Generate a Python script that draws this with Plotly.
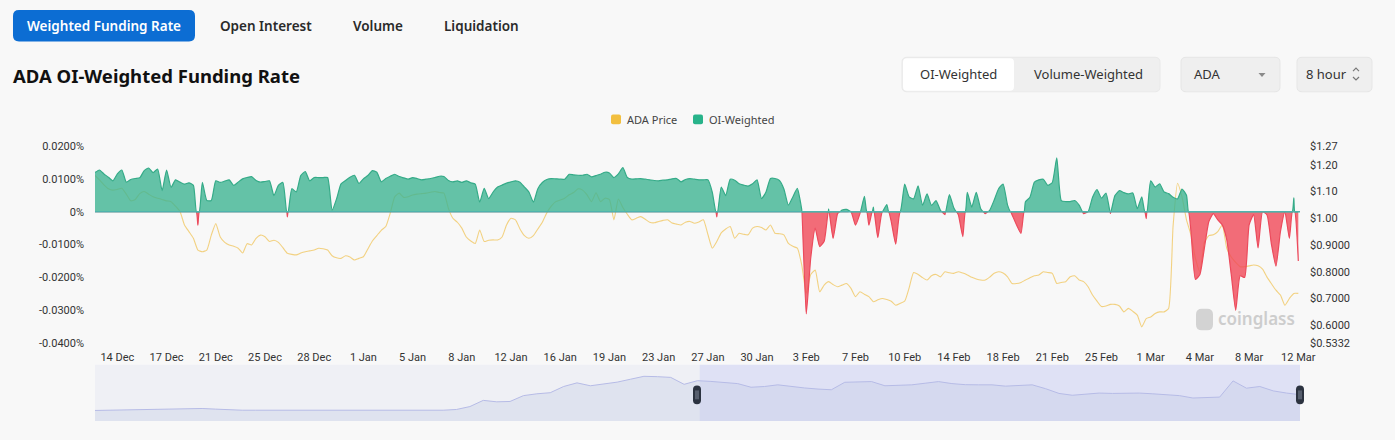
import pandas as pd
import plotly.graph_objects as go

# ----------------------------------------------------------------- data
series_start = "2024-12-12 08:00"
series_interval = "8h"

# OI-weighted funding rate, in percent, one value per 8h
funding_rate_pct = [
    0.0119, 0.0127, 0.0115, 0.0105, 0.0094, 0.0115, 0.0127, 0.0090, 0.0098, 0.0101,
    0.0103, 0.0125, 0.0133, 0.0119, 0.0130, 0.0064, 0.0127, 0.0074, 0.0097, 0.0090,
    0.0084, 0.0088, 0.0080, -0.0041, 0.0089, 0.0034, 0.0034, 0.0094, 0.0089, 0.0093,
    0.0097, 0.0080, 0.0090, 0.0100, 0.0104, 0.0107, 0.0095, 0.0090, 0.0092, 0.0094,
    0.0049, 0.0080, 0.0089, -0.0016, 0.0070, 0.0060, 0.0110, 0.0122, 0.0094, 0.0104,
    0.0104, 0.0104, 0.0104, 0.0004, 0.0039, 0.0085, 0.0095, 0.0105, 0.0111, 0.0086,
    0.0100, 0.0110, 0.0125, 0.0120, 0.0091, 0.0101, 0.0108, 0.0114, 0.0107, 0.0103,
    0.0099, 0.0104, 0.0101, 0.0097, 0.0099, 0.0101, 0.0104, 0.0108, 0.0107, 0.0095,
    0.0091, 0.0094, 0.0089, 0.0094, 0.0088, 0.0084, 0.0029, 0.0071, 0.0040, 0.0060,
    0.0075, 0.0081, 0.0087, 0.0091, 0.0094, 0.0090, 0.0075, 0.0060, 0.0029, 0.0070,
    0.0089, 0.0098, 0.0101, 0.0100, 0.0099, 0.0099, 0.0114, 0.0112, 0.0111, 0.0111,
    0.0114, 0.0106, 0.0110, 0.0114, 0.0120, 0.0118, 0.0104, 0.0115, 0.0134, 0.0104,
    0.0099, 0.0100, 0.0101, 0.0099, 0.0097, 0.0095, 0.0094, 0.0096, 0.0097, 0.0100,
    0.0101, 0.0091, 0.0098, 0.0101, 0.0099, 0.0097, 0.0097, 0.0097, 0.0059, -0.0016,
    0.0075, 0.0049, 0.0099, 0.0096, 0.0085, 0.0081, 0.0078, 0.0085, 0.0097, 0.0040,
    0.0060, 0.0101, 0.0101, 0.0095, 0.0069, 0.0020, 0.0045, 0.0071, 0.0005, -0.0311,
    -0.0141, -0.0050, -0.0106, -0.0090, 0.0008, -0.0081, -0.0006, 0.0005, 0.0007, 0.0000,
    -0.0041, -0.0006, 0.0047, -0.0041, 0.0014, -0.0079, 0.0000, 0.0022, -0.0030, -0.0099,
    0.0000, 0.0084, 0.0045, 0.0039, 0.0079, 0.0019, 0.0054, 0.0019, 0.0034, 0.0004,
    -0.0009, 0.0052, 0.0011, -0.0009, -0.0076, 0.0059, 0.0014, 0.0059, 0.0009, -0.0006,
    0.0004, 0.0035, 0.0070, 0.0084, 0.0020, -0.0009, -0.0040, -0.0066, 0.0030, 0.0044,
    0.0090, 0.0097, 0.0099, 0.0080, 0.0089, 0.0164, 0.0034, 0.0031, 0.0031, 0.0034,
    0.0020, -0.0006, 0.0000, 0.0044, 0.0067, 0.0041, 0.0057, -0.0005, 0.0049, 0.0064,
    0.0058, 0.0054, 0.0057, 0.0009, 0.0045, -0.0021, 0.0094, 0.0075, 0.0085, 0.0060,
    0.0055, 0.0044, 0.0039, 0.0069, 0.0050, -0.0060, -0.0206, -0.0191, -0.0111, -0.0030,
    -0.0006, -0.0025, -0.0040, -0.0085, -0.0190, -0.0300, -0.0195, -0.0200, -0.0040, -0.0009,
    -0.0110, 0.0000, -0.0010, -0.0100, -0.0166, -0.0061, 0.0000, -0.0081, 0.0042, -0.0150,
]

# ADA price (USD), one value per 8h
ada_price_usd = [
    1.160, 1.143, 1.125, 1.110, 1.105, 1.108, 1.112, 1.090, 1.065, 1.070,
    1.092, 1.100, 1.090, 1.080, 1.075, 1.070, 1.065, 1.062, 1.045, 1.025,
    0.975, 0.950, 0.925, 0.881, 0.875, 0.881, 0.937, 0.980, 0.930, 0.910,
    0.900, 0.895, 0.888, 0.870, 0.905, 0.900, 0.925, 0.937, 0.931, 0.913,
    0.918, 0.910, 0.890, 0.869, 0.865, 0.863, 0.870, 0.875, 0.878, 0.881,
    0.888, 0.886, 0.881, 0.860, 0.852, 0.850, 0.860, 0.855, 0.844, 0.850,
    0.856, 0.885, 0.915, 0.935, 0.955, 0.969, 1.019, 1.080, 1.094, 1.078,
    1.080, 1.087, 1.090, 1.092, 1.094, 1.097, 1.100, 1.096, 1.094, 1.037,
    1.000, 0.985, 0.963, 0.930, 0.915, 0.906, 0.956, 0.913, 0.918, 0.919,
    0.919, 0.930, 0.975, 1.000, 0.994, 0.960, 0.935, 0.925, 0.935, 0.960,
    0.985, 1.020, 1.045, 1.062, 1.068, 1.075, 1.088, 1.096, 1.110, 1.105,
    1.087, 1.062, 1.095, 1.062, 1.075, 1.070, 0.994, 1.072, 1.040, 1.015,
    0.994, 1.000, 1.006, 0.996, 0.985, 0.983, 0.988, 0.992, 0.994, 0.982,
    0.978, 0.975, 0.985, 0.988, 0.981, 0.986, 0.994, 0.940, 0.888, 0.913,
    0.945, 0.960, 0.969, 0.925, 0.944, 0.940, 0.938, 0.963, 0.969, 0.965,
    0.956, 0.975, 0.944, 0.942, 0.938, 0.906, 0.895, 0.888, 0.825, 0.720,
    0.790, 0.806, 0.725, 0.750, 0.763, 0.752, 0.744, 0.750, 0.756, 0.738,
    0.707, 0.725, 0.716, 0.707, 0.688, 0.695, 0.700, 0.696, 0.690, 0.675,
    0.682, 0.690, 0.740, 0.797, 0.790, 0.778, 0.769, 0.785, 0.790, 0.781,
    0.800, 0.796, 0.794, 0.800, 0.795, 0.788, 0.779, 0.773, 0.769, 0.769,
    0.780, 0.794, 0.800, 0.795, 0.781, 0.756, 0.756, 0.760, 0.769, 0.778,
    0.785, 0.788, 0.800, 0.797, 0.794, 0.756, 0.760, 0.763, 0.781, 0.785,
    0.769, 0.763, 0.744, 0.713, 0.690, 0.670, 0.672, 0.678, 0.678, 0.672,
    0.650, 0.663, 0.652, 0.638, 0.594, 0.625, 0.631, 0.644, 0.650, 0.650,
    0.663, 0.970, 1.131, 1.080, 0.994, 0.938, 0.850, 0.800, 0.910, 0.935,
    0.938, 0.950, 0.975, 0.888, 0.855, 0.835, 0.819, 0.819, 0.822, 0.825,
    0.822, 0.810, 0.780, 0.755, 0.731, 0.713, 0.675, 0.700, 0.719, 0.719,
]

# overview (data-zoom) price history, every 2 days
overview_start = "2024-09-13"
overview_interval = "2D"
overview_price_usd = [
    0.343, 0.350, 0.360, 0.370, 0.370, 0.380, 0.397, 0.400, 0.397, 0.380,
    0.355, 0.350, 0.350, 0.350, 0.350, 0.350, 0.352, 0.352, 0.350, 0.350,
    0.352, 0.350, 0.350, 0.350, 0.348, 0.345, 0.350, 0.370, 0.450, 0.620,
    0.580, 0.590, 0.750, 0.800, 0.830, 1.000, 1.100, 1.020, 1.060, 1.120,
    1.200, 1.280, 1.270, 1.250, 1.060, 1.160, 1.140, 1.120, 1.080, 0.980,
    1.000, 1.046, 1.000, 0.960, 0.930, 0.911, 1.116, 1.120, 1.135, 1.020,
    1.030, 1.046, 1.090, 1.135, 1.080, 1.050, 1.046, 1.046, 1.010, 1.020,
    1.046, 0.940, 0.810, 0.760, 0.790, 0.820, 0.810, 0.815, 0.820, 0.800,
    0.780, 0.750, 0.684, 0.690, 0.710, 1.154, 0.954, 1.000, 0.880, 0.820,
    0.776,
]

x_tick_first = "2024-12-14 00:00"
x_tick_step = "88h"
x_tick_labels = ["14 Dec", "17 Dec", "21 Dec", "25 Dec", "28 Dec", "1 Jan", "5 Jan",
                 "8 Jan", "12 Jan", "16 Jan", "19 Jan", "23 Jan", "27 Jan", "30 Jan",
                 "3 Feb", "7 Feb", "10 Feb", "14 Feb", "18 Feb", "21 Feb", "25 Feb",
                 "1 Mar", "4 Mar", "8 Mar", "12 Mar"]

funding_tick_vals = [0.02, 0.01, 0.0, -0.01, -0.02, -0.03, -0.04]
funding_tick_text = ["0.0200%", "0.0100%", "0%", "-0.0100%", "-0.0200%", "-0.0300%", "-0.0400%"]
price_tick_vals = [1.27, 1.20, 1.10, 1.00, 0.90, 0.80, 0.70, 0.60, 0.5332]
price_tick_text = ["$1.27", "$1.20", "$1.10", "$1.00", "$0.9000", "$0.8000",
                   "$0.7000", "$0.6000", "$0.5332"]

# ----------------------------------------------------------------- layout helpers
W_PX, H_PX = 1395, 440
ML, MR, MT, MB = 95, 95, 146, 15
PW = W_PX - ML - MR
PH = H_PX - MT - MB
UI_FONT = "Noto Sans"
AX_FONT = "Roboto"
BG = "#f8f8f8"


def fx(px):
    return (px - ML) / PW


def fy(py):
    return (H_PX - MB - py) / PH


def rrect_path(x0, y0, x1, y1, r):
    def P(a, b):
        return f"{fx(a):.6f},{fy(b):.6f}"
    return (f"M {P(x0 + r, y0)} L {P(x1 - r, y0)} Q {P(x1, y0)} {P(x1, y0 + r)} "
            f"L {P(x1, y1 - r)} Q {P(x1, y1)} {P(x1 - r, y1)} L {P(x0 + r, y1)} "
            f"Q {P(x0, y1)} {P(x0, y1 - r)} L {P(x0, y0 + r)} Q {P(x0, y0)} {P(x0 + r, y0)} Z")


def rrect(x0, y0, x1, y1, r, fill, line=None, layer="above"):
    return dict(type="path", xref="paper", yref="paper", path=rrect_path(x0, y0, x1, y1, r),
                fillcolor=fill, line=dict(color=line or fill, width=1 if line else 0),
                layer=layer)


def txt(s, px, py, size, color, weight=400, anchor="left", family=UI_FONT):
    return dict(text=s, x=fx(px), y=fy(py), xref="paper", yref="paper",
                xanchor=anchor, yanchor="middle", showarrow=False,
                font=dict(size=size, color=color, family=family, weight=weight))


# ----------------------------------------------------------------- series prep
times = pd.date_range(series_start, periods=len(funding_rate_pct), freq=series_interval)
tick_times = pd.date_range(x_tick_first, periods=len(x_tick_labels), freq=x_tick_step)
ov_times = pd.date_range(overview_start, periods=len(overview_price_usd), freq=overview_interval)

# split funding into positive / negative parts, with the zero crossings inserted
tn = times.asi8
pos_x, pos_y, neg_x, neg_y = [], [], [], []
for k, v in enumerate(funding_rate_pct):
    if k > 0:
        v0 = funding_rate_pct[k - 1]
        if v0 * v < 0:
            tc = tn[k - 1] + (v0 / (v0 - v)) * (tn[k] - tn[k - 1])
            pos_x.append(tc); pos_y.append(0.0)
            neg_x.append(tc); neg_y.append(0.0)
    pos_x.append(tn[k]); pos_y.append(max(v, 0.0))
    neg_x.append(tn[k]); neg_y.append(min(v, 0.0))
pos_x = pd.to_datetime(pos_x)
neg_x = pd.to_datetime(neg_x)

# ----------------------------------------------------------------- figure
fig = go.Figure()

fig.add_trace(go.Scatter(
    x=times, y=ada_price_usd, name="ADA Price", mode="lines",
    line=dict(color="rgba(240,196,90,0.75)", width=1.1, shape="spline", smoothing=0.5),
    xaxis="x", yaxis="y", hoverinfo="skip"))

fig.add_trace(go.Scatter(
    x=neg_x, y=neg_y, name="OI-Weighted (neg)", mode="lines", fill="tozeroy",
    fillcolor="rgba(240,72,88,0.80)",
    line=dict(color="#ec4a5c", width=1.2, shape="spline", smoothing=0.5),
    xaxis="x", yaxis="y2", hoverinfo="skip"))

fig.add_trace(go.Scatter(
    x=pos_x, y=pos_y, name="OI-Weighted", mode="lines", fill="tozeroy",
    fillcolor="rgba(62,180,146,0.80)",
    line=dict(color="#35ab88", width=1.2, shape="spline", smoothing=0.5),
    xaxis="x", yaxis="y2", hoverinfo="skip"))

# overview / data-zoom strip
fig.add_trace(go.Scatter(
    x=ov_times, y=overview_price_usd, mode="lines", fill="tozeroy",
    fillcolor="rgba(196,203,228,0.35)",
    line=dict(color="#b6bbe6", width=1),
    xaxis="x2", yaxis="y3", hoverinfo="skip"))

shapes = []
# data-zoom backgrounds
shapes.append(dict(type="rect", xref="x2", yref="paper", x0=ov_times[0], x1=ov_times[-1],
                   y0=0, y1=fy(368), fillcolor="#eff0f5", line=dict(width=0), layer="below"))
shapes.append(dict(type="rect", xref="x2", yref="paper", x0=times[0], x1=ov_times[-1],
                   y0=0, y1=fy(368), fillcolor="rgba(150,160,250,0.18)", line=dict(width=0),
                   layer="below"))
# zero line on top of the areas
shapes.append(dict(type="line", xref="paper", yref="y2", x0=0, x1=1, y0=0, y1=0,
                   line=dict(color="#4fb3ad", width=1.6), layer="above"))

# handles
for hx in (697, 1300):
    shapes.append(rrect(hx - 4, 389, hx + 4, 408, 4, "#2c3340"))
    shapes.append(dict(type="line", xref="paper", yref="paper", x0=fx(hx - 1), x1=fx(hx - 1),
                       y0=fy(394), y1=fy(403), line=dict(color="#9aa3b5", width=0.8)))
    shapes.append(dict(type="line", xref="paper", yref="paper", x0=fx(hx + 1), x1=fx(hx + 1),
                       y0=fy(394), y1=fy(403), line=dict(color="#9aa3b5", width=0.8)))

# top tab bar
shapes.append(rrect(13, 8, 195, 40, 6, "#0c6dd3"))
# segmented control
shapes.append(rrect(902, 56, 1160, 91, 5, "#efefef", line="#e9e9e9"))
shapes.append(rrect(903, 57, 1014, 90, 4, "#ffffff"))
# dropdowns
shapes.append(rrect(1181, 56, 1280, 91, 5, "#efefef", line="#e6e6e6"))
shapes.append(rrect(1297, 56, 1372, 91, 5, "#efefef", line="#e6e6e6"))
# dropdown arrow
shapes.append(dict(type="path", xref="paper", yref="paper",
                   path=f"M {fx(1258.5)},{fy(72)} L {fx(1265.5)},{fy(72)} L {fx(1262)},{fy(76)} Z",
                   fillcolor="#8a8a8a", line=dict(width=0)))
# up/down chevrons
shapes.append(dict(type="path", xref="paper", yref="paper",
                   path=f"M {fx(1353)},{fy(70)} L {fx(1356)},{fy(67)} L {fx(1359)},{fy(70)}",
                   line=dict(color="#777", width=1.2)))
shapes.append(dict(type="path", xref="paper", yref="paper",
                   path=f"M {fx(1353)},{fy(76)} L {fx(1356)},{fy(79)} L {fx(1359)},{fy(76)}",
                   line=dict(color="#777", width=1.2)))
# legend markers
shapes.append(rrect(611, 114, 621, 124, 2, "#f2bf3f"))
shapes.append(rrect(693, 114, 703, 124, 2, "#28b38a"))
# watermark icon
shapes.append(rrect(1196, 311, 1213, 333, 6, "#d3d3d3"))

annotations = [
    txt("Weighted Funding Rate", 104, 24, 13.5, "#ffffff", 600, "center"),
    txt("Open Interest", 266, 24, 13.5, "#2a2a2a", 600, "center"),
    txt("Volume", 378, 24, 13.5, "#2a2a2a", 600, "center"),
    txt("Liquidation", 481, 24, 13.5, "#2a2a2a", 600, "center"),
    txt("ADA OI-Weighted Funding Rate", 11, 74, 18.5, "#111111", 700, "left"),
    txt("OI-Weighted", 958, 73, 13, "#333333", 400, "center"),
    txt("Volume-Weighted", 1088, 73, 13, "#333333", 400, "center"),
    txt("ADA", 1192, 73, 13, "#333333", 400, "left"),
    txt("8 hour", 1304, 73, 13, "#333333", 400, "left"),
    txt("ADA Price", 625, 119, 11, "#444444", 400, "left"),
    txt("OI-Weighted", 707, 119, 11, "#444444", 400, "left"),
    txt("coinglass", 1216, 321, 17, "#cdcdcd", 600, "left"),
]

x_end = times[-1] + pd.Timedelta(hours=3)

fig.update_layout(
    width=W_PX, height=H_PX, autosize=False,
    margin=dict(l=ML, r=MR, t=MT, b=MB, pad=0),
    paper_bgcolor=BG, plot_bgcolor=BG,
    showlegend=False,
    font=dict(family=AX_FONT, size=11, color="#333333"),
    xaxis=dict(domain=[0, 1], anchor="y", type="date", range=[times[0], x_end],
               tickmode="array", tickvals=list(tick_times), ticktext=x_tick_labels,
               showgrid=False, zeroline=False, showline=False, ticks="",
               ticklabelstandoff=6, tickfont=dict(family=AX_FONT, size=11, color="#333")),
    yaxis=dict(domain=[fy(346), 1], anchor="x", side="right", range=[0.5332, 1.27],
               tickmode="array", tickvals=price_tick_vals, ticktext=price_tick_text,
               showgrid=False, zeroline=False, showline=False, ticks="",
               ticklabelstandoff=9, tickfont=dict(family=AX_FONT, size=11, color="#333")),
    yaxis2=dict(overlaying="y", anchor="x", side="left", range=[-0.04, 0.02],
                tickmode="array", tickvals=funding_tick_vals, ticktext=funding_tick_text,
                showgrid=False, zeroline=False, showline=False, ticks="",
                ticklabelstandoff=10, tickfont=dict(family=AX_FONT, size=11, color="#333")),
    xaxis2=dict(domain=[0, 1], anchor="y3", type="date", range=[ov_times[0], ov_times[-1]],
                visible=False),
    yaxis3=dict(domain=[0, fy(368)], anchor="x2", range=[0.054, 1.595], visible=False),
    shapes=shapes,
    annotations=annotations,
)

fig.write_html("out.html")
